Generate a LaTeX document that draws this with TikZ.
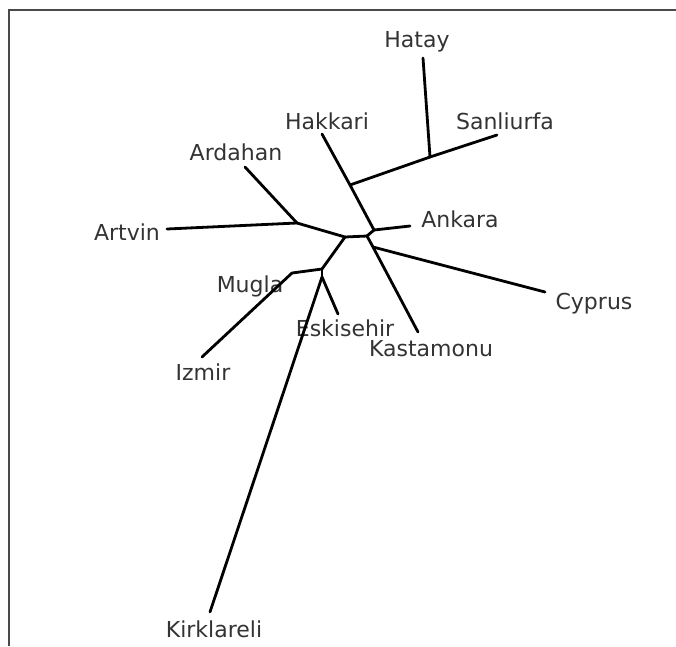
\documentclass[tikz,border=0pt]{standalone}
\usepackage{fontspec}
\setmainfont{DejaVu Sans}
\definecolor{Frame}{HTML}{4A4A4A}
\definecolor{Label}{HTML}{333333}

\begin{document}
\begin{tikzpicture}[x=1pt,y=-1pt,
    branch/.style={line width=2.8pt,black,line cap=round,line join=round},
    taxon/.style={font=\fontsize{22}{26}\selectfont,text=Label,inner sep=0pt}]
    \useasboundingbox (0,0) rectangle (676,646);
    \draw[line width=2pt,Frame] (9,646) -- (9,10) -- (676,10);
    % inner junctions of the tree
    \foreach \n/\x/\y in {c1/345/237,c2/367/236,a/374/230,h/350/185,s/430/157,
                          k/373/247,d/297/223,m/322/269,mugla/292/273,m2/322/277}{
      \coordinate (\n) at (\x,\y);
    }
    % leaf ends
    \foreach \n/\x/\y in {hatay/423/58,sanliurfa/497/135,hakkari/322/134,ankara/410/226,
                          kastamonu/418/332,cyprus/545/292,artvin/167/229,ardahan/245/167,
                          izmir/202/357,eskisehir/338/314,kirklareli/210/612}{
      \coordinate (\n) at (\x,\y);
    }
    % taxon names
    \foreach \n/\x/\y/\name in {hatay/417/42/Hatay,sanliurfa/505/121/Sanliurfa,
                                hakkari/327/121/Hakkari,ardahan/236/152/Ardahan,
                                artvin/127/232/Artvin,ankara/460/219/Ankara,
                                cyprus/594/304/Cyprus,kastamonu/431/349/Kastamonu,
                                eskisehir/345/328/Eskisehir,mugla/250/286/Mugla,
                                izmir/203/372/Izmir,kirklareli/214/629/Kirklareli}{
      \node[taxon] (\n-l) at (\x,\y) {\name};
    }
    \foreach \a/\b in {c1/c2,c2/a,a/ankara,a/h,h/hakkari,h/s,s/hatay,s/sanliurfa,
                       c2/k,k/kastamonu,k/cyprus,c1/d,d/artvin,d/ardahan,c1/m,
                       m/mugla,mugla/izmir,m/m2,m2/eskisehir,m2/kirklareli}{
      \draw[branch] (\a) -- (\b);
    }
  \end{tikzpicture}
\end{document}
